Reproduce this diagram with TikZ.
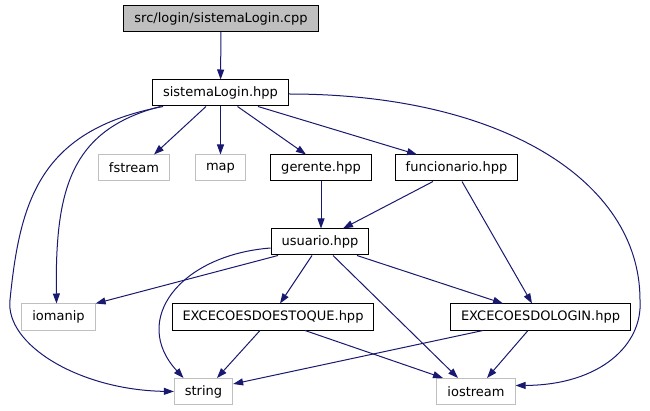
\documentclass[tikz,border=0pt]{standalone}
\usepackage{fontspec}
\setmainfont{DejaVu Sans}
\usetikzlibrary{arrows.meta}
\definecolor{edgeblue}{HTML}{191970}
\definecolor{sysgray}{HTML}{BFBFBF}

\begin{document}
\begin{tikzpicture}[x=1pt, y=-1pt,
  box/.style={rectangle, minimum height=26pt, inner xsep=10.5pt, inner ysep=0pt,
              line width=1pt, font=\fontsize{13}{15}\selectfont},
  srcfile/.style={box, draw=black, fill=sysgray},
  header/.style={box, draw=black, fill=white},
  syshdr/.style={box, draw=sysgray, fill=white},
  arr/.style={-{Triangle[length=10pt, width=7pt]}, line width=1pt, color=edgeblue}
]
  \useasboundingbox (0,0) rectangle (650,411);

  % Files of the project
  \node[srcfile] (cpp) at (221,18.5) {src/login/sistemaLogin.cpp};
  \node[header] (hpp) at (220.5,93) {sistemaLogin.hpp};
  \node[header] (gerente) at (321,168) {gerente.hpp};
  \node[header] (funcionario) at (456.5,168) {funcionario.hpp};
  \node[header] (usuario) at (320,242) {usuario.hpp};
  \node[header] (exestoque) at (273,317) {EXCECOESDOESTOQUE.hpp};
  \node[header] (exlogin) at (540.5,317) {EXCECOESDOLOGIN.hpp};

  % Standard library headers
  \node[syshdr] (fstream) at (134,168) {fstream};
  \node[syshdr] (map) at (220.5,168) {map};
  \node[syshdr] (iomanip) at (58.5,317) {iomanip};
  \node[syshdr] (string) at (203.5,391.5) {string};
  \node[syshdr] (iostream) at (476,391.5) {iostream};

  % Includes of sistemaLogin
  \draw[arr] (cpp) -- (hpp);
  \draw[arr] ([xshift=-14.5pt]hpp.south) -- ([xshift=20pt]fstream.north);
  \draw[arr] (hpp) -- (map);
  \draw[arr] ([xshift=17pt]hpp.south) -- ([xshift=-15pt]gerente.north);
  \draw[arr] ([xshift=37.5pt]hpp.south) -- ([xshift=-39.5pt]funcionario.north);
  \draw[arr] ([yshift=-1pt]hpp.east) .. controls (500,94) and (640,180) .. (640,300)
             .. controls (643,345) and (600,385) .. ([yshift=6pt]iostream.east);
  \draw[arr] ([xshift=-57.5pt]hpp.south) .. controls (40,130) and (20,200) .. (10,300)
             .. controls (5,345) and (80,390) .. (string.west);
  \draw[arr] ([xshift=-60pt]hpp.south) .. controls (70,130) and (55,190) .. ([xshift=-2pt]iomanip.north);

  % Includes of gerente and funcionario
  \draw[arr] (gerente.south) -- (gerente.south |- usuario.north);
  \draw[arr] ([xshift=-23.5pt]funcionario.south) -- ([xshift=23pt]usuario.north);
  \draw[arr] ([xshift=5.5pt]funcionario.south) -- ([xshift=-8.5pt]exlogin.north);

  % Includes of usuario
  \draw[arr] ([xshift=-42pt]usuario.south) -- (iomanip.north east);
  \draw[arr] ([yshift=-6pt]usuario.west) .. controls (180,255) and (130,320) .. ([xshift=-20pt]string.north);
  \draw[arr] ([xshift=-8pt]usuario.south) -- ([xshift=7pt]exestoque.north);
  \draw[arr] ([xshift=13pt]usuario.south) -- ([xshift=-18pt]iostream.north);
  \draw[arr] ([xshift=37pt]usuario.south) -- ([xshift=-37.5pt]exlogin.north);

  % Includes of the exception headers
  \draw[arr] ([xshift=-13pt]exestoque.south) -- ([xshift=13.5pt]string.north);
  \draw[arr] ([xshift=32pt]exestoque.south) -- ([xshift=-33pt]iostream.north);
  \draw[arr] ([xshift=-57.5pt]exlogin.south) -- ([yshift=7.5pt]string.east);
  \draw[arr] ([xshift=-12.5pt]exlogin.south) -- ([xshift=11pt]iostream.north);
\end{tikzpicture}
\end{document}
